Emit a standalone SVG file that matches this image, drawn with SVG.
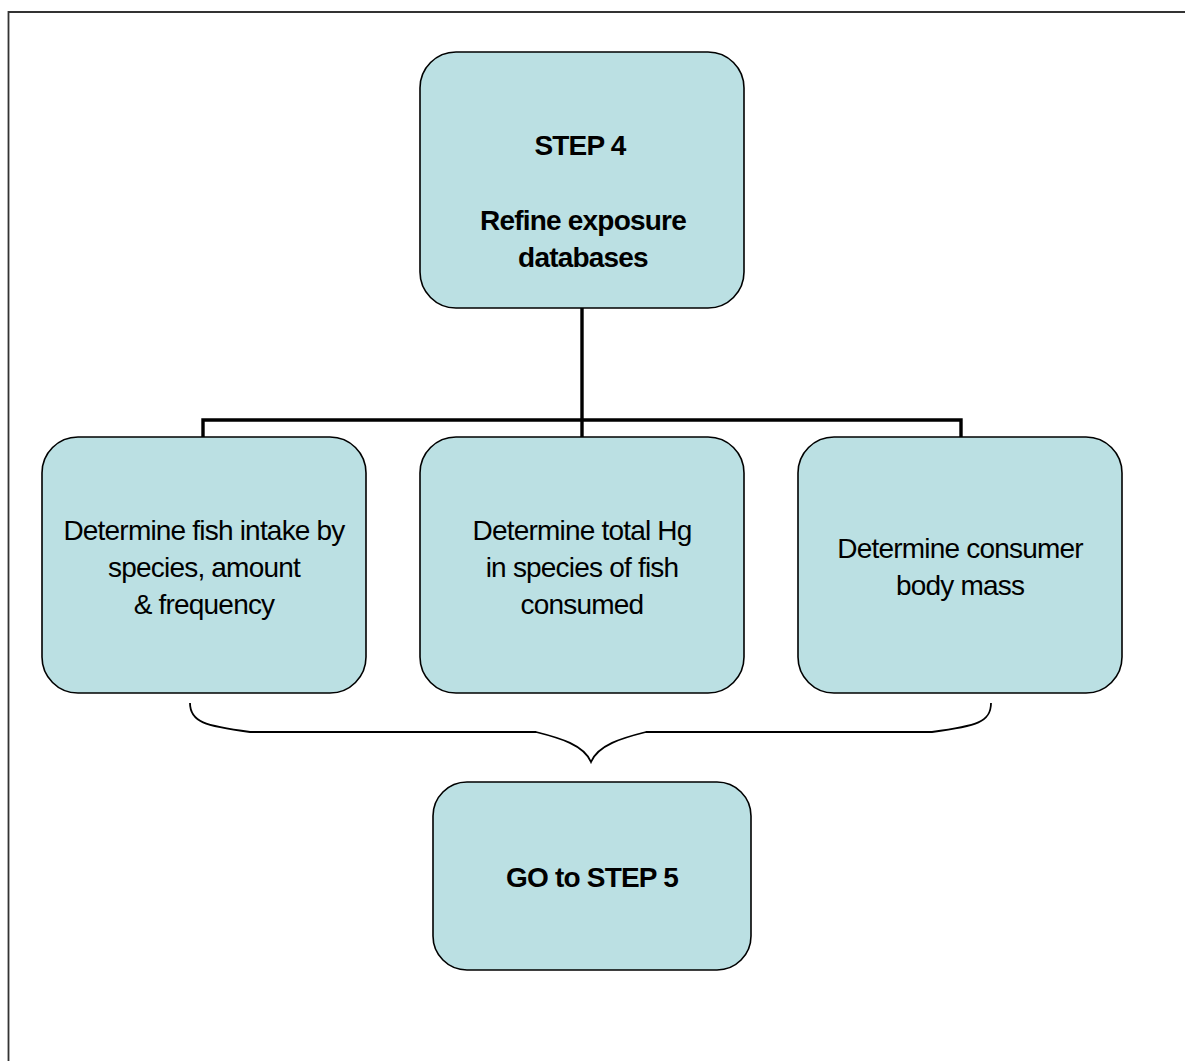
<svg xmlns="http://www.w3.org/2000/svg" width="1185" height="1061" viewBox="0 0 1185 1061">
<style>
.box{fill:#bbe0e3;stroke:#000;stroke-width:1.6}
.t{font-family:"Liberation Sans",Arial,sans-serif;font-size:28px;fill:#000;text-anchor:middle;letter-spacing:-0.8px}
.b{font-weight:bold}
.conn{fill:none;stroke:#000;stroke-width:3.4}
.brace{fill:none;stroke:#000;stroke-width:1.8}
</style>
<rect x="0" y="0" width="1185" height="1061" fill="#fff"/>
<path d="M8.5,1061 V12 H1185" fill="none" stroke="#333" stroke-width="1.8"/>
<g id="connectors">
<path class="conn" d="M582,308 V420 M203,437 V420 H961 V437 M582,420 V437"/>
<path class="brace" d="M190,703 C190,722 205,726 250,732 L536,732 C560,738 584,745 591,762 C598,745 622,738 646,732 L932,732 C977,726 991,722 991,703"/>
</g>
<g id="step4">
<rect class="box" x="420" y="52" width="324" height="256" rx="36" ry="36"/>
<text class="t b" x="580" y="155">STEP 4</text>
<text class="t b" x="583" y="230">Refine exposure</text>
<text class="t b" x="583" y="267">databases</text>
</g>
<g id="fish-intake">
<rect class="box" x="42" y="437" width="324" height="256" rx="36" ry="36"/>
<text class="t" x="204" y="540">Determine fish intake by</text>
<text class="t" x="204" y="577">species, amount</text>
<text class="t" x="204" y="614">&amp; frequency</text>
</g>
<g id="total-hg">
<rect class="box" x="420" y="437" width="324" height="256" rx="36" ry="36"/>
<text class="t" x="582" y="540">Determine total Hg</text>
<text class="t" x="582" y="577">in species of fish</text>
<text class="t" x="582" y="614">consumed</text>
</g>
<g id="body-mass">
<rect class="box" x="798" y="437" width="324" height="256" rx="36" ry="36"/>
<text class="t" x="960" y="558">Determine consumer</text>
<text class="t" x="960" y="595">body mass</text>
</g>
<g id="step5">
<rect class="box" x="433" y="782" width="318" height="188" rx="34" ry="34"/>
<text class="t b" x="592" y="887">GO to STEP 5</text>
</g>
</svg>
